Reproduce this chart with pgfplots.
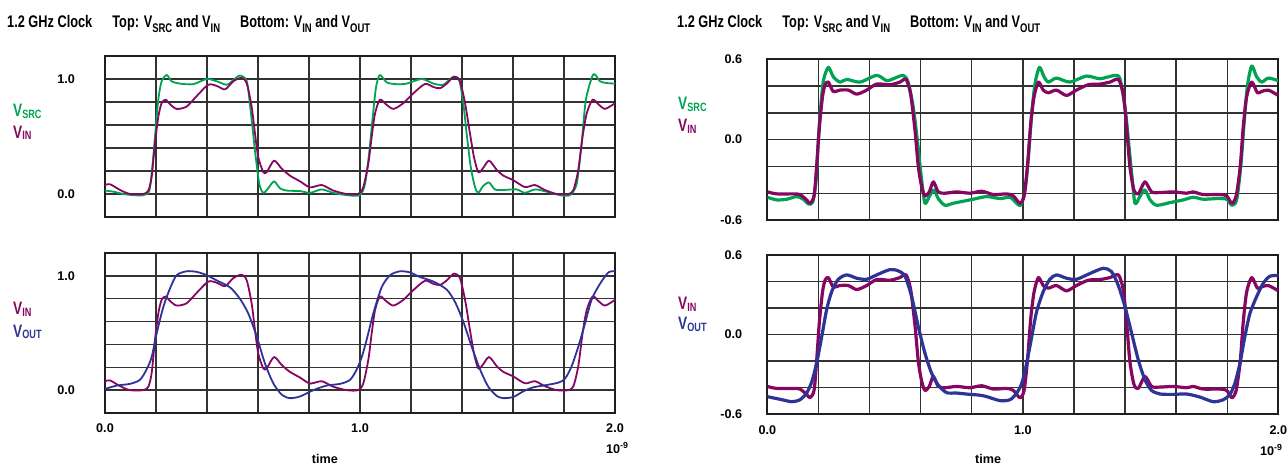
\documentclass[border=0pt]{standalone}
\usepackage{pgfplots}
\pgfplotsset{compat=1.18}
\usepackage{fontspec}
\setmainfont{Liberation Sans}[FakeStretch=0.76]
\newfontfamily\tickfont{Liberation Sans}[FakeStretch=1.0]
\definecolor{cgreen}{RGB}{0,163,82}
\definecolor{cpurple}{RGB}{134,6,98}
\definecolor{cblue}{RGB}{45,52,150}
\definecolor{cgrid}{RGB}{50,50,50}
\definecolor{cframe}{RGB}{30,30,30}
\newcommand\tsub[1]{\raisebox{-4.5pt}{\fontsize{12.5}{12.5}\selectfont #1}}
\newcommand\lsub[1]{\raisebox{-1.5pt}{\fontsize{12}{12}\selectfont #1}}
\pgfplotsset{
  base/.style={scale only axis, anchor=south west, xmin=0, xmax=2,
    grid=major, major grid style={line width=1.4pt, color=cgrid},
    axis line style={line width=2pt, color=cframe},
    major tick length=0pt, tick style={draw=none},
    xtick={0,0.2,0.4,0.6,0.8,1.0,1.2,1.4,1.6,1.8,2.0},
    /pgf/number format/assume math mode=true,
    ticklabel style={font=\tickfont\bfseries\fontsize{12.6}{13}\selectfont, inner sep=0pt},
    xticklabel style={anchor=north, yshift=-11pt},
    xticklabels={,,,,,,,,,,},
  },
  lefty/.style={ymin=-0.2, ymax=1.2, ytick={-0.2,0,0.2,0.4,0.6,0.8,1.0,1.2},
    yticklabels={,0.0,,,,,1.0,}, yticklabel style={anchor=east, xshift=-30pt}},
  righty/.style={ymin=-0.6, ymax=0.6, ytick={-0.6,-0.4,-0.2,0,0.2,0.4,0.6},
    yticklabels={-0.6,,,0.0,,,0.6}, yticklabel style={anchor=east, xshift=-25pt}},
  botx/.style={xticklabels={0.0,,,,,1.0,,,,,2.0}},
  thin/.style={line width=1.8pt, line join=round, smooth, tension=0.45},
  thick/.style={line width=3.2pt, line join=round, smooth, tension=0.45},
}
\pgfplotstableread{
x y
0 0.03
0.033 0.02
0.072 0.0
0.111 -0.01
0.15 -0.01
0.174 0.03
0.187 0.27
0.196 0.5
0.209 0.82
0.222 0.98
0.242 1.035
0.261 0.98
0.294 0.96
0.346 0.955
0.399 1.0
0.438 0.98
0.477 0.95
0.503 0.99
0.529 1.03
0.556 0.98
0.571 0.73
0.588 0.38
0.605 0.09
0.621 0.01
0.64 0.05
0.663 0.11
0.686 0.05
0.712 0.03
0.765 0.025
0.804 0.01
0.85 0.04
0.895 0.01
0.948 -0.01
0.999 -0.01
1.02 0.09
1.037 0.38
1.05 0.67
1.063 0.93
1.078 1.035
1.105 0.97
1.144 0.955
1.183 0.96
1.242 1.0
1.288 0.96
1.327 0.95
1.366 1.02
1.389 0.99
1.405 0.79
1.418 0.53
1.434 0.24
1.451 0.06
1.464 0.01
1.483 0.07
1.506 0.10
1.529 0.04
1.562 0.035
1.614 0.04
1.647 0.01
1.686 0.04
1.732 0.02
1.784 -0.01
1.823 -0.01
1.85 0.09
1.869 0.44
1.886 0.82
1.915 1.04
1.941 0.98
1.967 0.965
2.0 0.96
}\LSRC
\pgfplotstableread{
x y
0 0.078
0.02 0.085
0.059 0.035
0.098 0.0
0.15 0.0
0.17 0.03
0.183 0.15
0.196 0.44
0.209 0.67
0.222 0.79
0.238 0.82
0.255 0.78
0.281 0.74
0.32 0.76
0.359 0.85
0.405 0.95
0.438 0.94
0.471 0.91
0.503 0.98
0.536 1.01
0.556 0.96
0.575 0.76
0.588 0.53
0.601 0.32
0.621 0.19
0.634 0.19
0.663 0.29
0.693 0.22
0.725 0.16
0.765 0.11
0.804 0.058
0.85 0.078
0.895 0.03
0.948 0.0
0.993 0.0
1.013 0.06
1.033 0.27
1.046 0.5
1.059 0.70
1.078 0.82
1.102 0.78
1.131 0.74
1.17 0.79
1.209 0.875
1.255 0.957
1.288 0.93
1.314 0.92
1.34 0.96
1.369 1.02
1.392 0.98
1.412 0.79
1.431 0.53
1.447 0.32
1.464 0.19
1.481 0.22
1.506 0.29
1.536 0.21
1.562 0.16
1.601 0.12
1.647 0.06
1.686 0.078
1.725 0.035
1.771 0.0
1.817 0.0
1.837 0.035
1.856 0.21
1.873 0.5
1.889 0.70
1.912 0.82
1.935 0.78
1.961 0.74
2.0 0.79
}\LIN
\pgfplotstableread{
x y
0 0.01
0.046 0.04
0.098 0.055
0.137 0.09
0.163 0.18
0.183 0.29
0.203 0.5
0.229 0.73
0.255 0.89
0.281 1.006
0.32 1.04
0.359 1.035
0.399 1.006
0.438 0.96
0.49 0.9
0.529 0.8
0.562 0.67
0.595 0.47
0.627 0.235
0.66 0.06
0.693 -0.04
0.725 -0.07
0.765 -0.055
0.817 0.0
0.869 0.04
0.922 0.055
0.961 0.09
0.987 0.18
1.007 0.29
1.026 0.44
1.052 0.67
1.085 0.9
1.118 1.006
1.157 1.04
1.196 1.03
1.235 0.99
1.288 0.95
1.34 0.88
1.373 0.77
1.405 0.6
1.438 0.38
1.471 0.18
1.503 0.03
1.536 -0.05
1.562 -0.07
1.601 -0.06
1.641 -0.01
1.68 0.025
1.732 0.045
1.778 0.066
1.804 0.1
1.83 0.21
1.856 0.38
1.882 0.58
1.908 0.79
1.941 0.93
1.974 1.03
2.0 1.04
}\LOUT
\pgfplotstableread{
x y
0.0 -0.43
0.037 -0.45
0.076 -0.445
0.115 -0.425
0.141 -0.445
0.161 -0.48
0.178 -0.465
0.191 -0.30
0.2 0.0
0.209 0.246
0.22 0.445
0.239 0.54
0.258 0.47
0.284 0.43
0.311 0.45
0.363 0.43
0.428 0.48
0.467 0.44
0.493 0.455
0.532 0.48
0.551 0.43
0.571 0.245
0.587 0.0
0.604 -0.30
0.617 -0.475
0.634 -0.425
0.652 -0.375
0.669 -0.44
0.695 -0.49
0.728 -0.475
0.78 -0.455
0.806 -0.445
0.859 -0.425
0.911 -0.44
0.95 -0.43
0.976 -0.475
0.992 -0.49
1.009 -0.375
1.022 -0.13
1.035 0.196
1.048 0.42
1.065 0.54
1.083 0.47
1.1 0.43
1.132 0.46
1.184 0.43
1.249 0.475
1.302 0.455
1.361 0.48
1.38 0.455
1.4 0.245
1.413 0.0
1.426 -0.25
1.439 -0.475
1.458 -0.425
1.478 -0.375
1.498 -0.45
1.524 -0.49
1.576 -0.47
1.628 -0.45
1.667 -0.43
1.706 -0.445
1.759 -0.44
1.798 -0.445
1.818 -0.49
1.837 -0.45
1.853 -0.2
1.866 0.12
1.879 0.40
1.896 0.55
1.915 0.47
1.935 0.43
1.961 0.46
2.0 0.44
}\RSRC
\pgfplotstableread{
x y
0.0 -0.39
0.037 -0.405
0.102 -0.405
0.128 -0.41
0.154 -0.45
0.167 -0.475
0.183 -0.42
0.193 -0.2
0.204 0.1
0.216 0.32
0.226 0.41
0.239 0.43
0.258 0.36
0.284 0.37
0.317 0.37
0.35 0.34
0.389 0.37
0.428 0.415
0.48 0.41
0.519 0.43
0.543 0.45
0.561 0.34
0.578 0.07
0.591 -0.2
0.604 -0.35
0.617 -0.42
0.634 -0.39
0.65 -0.315
0.669 -0.39
0.695 -0.4
0.741 -0.39
0.793 -0.4
0.839 -0.385
0.885 -0.41
0.937 -0.405
0.963 -0.42
0.989 -0.475
1.005 -0.42
1.018 -0.2
1.031 0.12
1.044 0.32
1.061 0.43
1.08 0.37
1.1 0.35
1.132 0.37
1.171 0.33
1.21 0.37
1.256 0.41
1.302 0.415
1.341 0.43
1.374 0.45
1.393 0.34
1.406 0.1
1.419 -0.2
1.435 -0.375
1.452 -0.405
1.478 -0.315
1.504 -0.39
1.537 -0.395
1.589 -0.39
1.641 -0.4
1.667 -0.39
1.706 -0.41
1.771 -0.41
1.798 -0.42
1.818 -0.475
1.835 -0.42
1.851 -0.2
1.863 0.1
1.876 0.32
1.896 0.43
1.918 0.35
1.935 0.36
1.961 0.37
2.0 0.33
}\RIN
\pgfplotstableread{
x y
0.0 -0.467
0.05 -0.487
0.096 -0.505
0.128 -0.49
0.154 -0.44
0.174 -0.355
0.193 -0.215
0.213 -0.015
0.232 0.186
0.252 0.324
0.278 0.417
0.311 0.45
0.35 0.425
0.389 0.417
0.428 0.45
0.48 0.49
0.513 0.48
0.539 0.44
0.565 0.286
0.591 0.06
0.617 -0.14
0.643 -0.29
0.669 -0.38
0.702 -0.437
0.741 -0.44
0.793 -0.45
0.832 -0.456
0.859 -0.467
0.911 -0.497
0.95 -0.49
0.976 -0.44
0.996 -0.366
1.015 -0.215
1.035 -0.015
1.054 0.173
1.08 0.324
1.106 0.417
1.132 0.45
1.171 0.425
1.21 0.417
1.262 0.46
1.315 0.5
1.347 0.475
1.373 0.374
1.4 0.21
1.426 0.01
1.452 -0.19
1.478 -0.34
1.504 -0.42
1.537 -0.447
1.589 -0.45
1.641 -0.447
1.693 -0.47
1.745 -0.505
1.785 -0.49
1.811 -0.45
1.83 -0.366
1.85 -0.215
1.869 -0.015
1.889 0.16
1.915 0.286
1.941 0.387
1.967 0.44
2.0 0.445
}\ROUT
\begin{document}
\begin{tikzpicture}
\useasboundingbox (0,0) rectangle (1287pt,466pt);
% titles
\node[anchor=base west, inner sep=0pt, font=\bfseries\fontsize{16.8}{18}\selectfont] at (7pt,438pt)
  {1.2 GHz Clock\hspace{20pt}Top: V\tsub{SRC} and V\tsub{IN}\hspace{20pt}Bottom: V\tsub{IN} and V\tsub{OUT}};
\node[anchor=base west, inner sep=0pt, font=\bfseries\fontsize{16.8}{18}\selectfont] at (677pt,438pt)
  {1.2 GHz Clock\hspace{20pt}Top: V\tsub{SRC} and V\tsub{IN}\hspace{20pt}Bottom: V\tsub{IN} and V\tsub{OUT}};
% legends
\begin{scope}[every node/.style={anchor=base west, inner sep=0pt, font=\bfseries\fontsize{18}{18}\selectfont}]
\node[text=cgreen] at (13pt,349.3pt) {V\lsub{SRC}};
\node[text=cpurple] at (13pt,327.7pt) {V\lsub{IN}};
\node[text=cpurple] at (13pt,151pt) {V\lsub{IN}};
\node[text=cblue] at (13pt,128.7pt) {V\lsub{OUT}};
\node[text=cgreen] at (678pt,356pt) {V\lsub{SRC}};
\node[text=cpurple] at (678pt,334.3pt) {V\lsub{IN}};
\node[text=cpurple] at (678pt,156pt) {V\lsub{IN}};
\node[text=cblue] at (678pt,136pt) {V\lsub{OUT}};
\end{scope}
\begin{scope}[every node/.style={anchor=base west, inner sep=0pt, font=\tickfont\bfseries\fontsize{12.6}{13}\selectfont}]
\node at (606pt,12.7pt) {10\textsuperscript{-9}};
\node at (1260pt,11pt) {10\textsuperscript{-9}};
\node at (311.7pt,2.7pt) {time};
\node at (975pt,3pt) {time};
\end{scope}
% left top
\begin{axis}[base, lefty, at={(105pt,249pt)}, width=510pt, height=161pt]
\addplot[thin, color=cgreen] table {\LSRC};
\addplot[thin, color=cpurple] table {\LIN};
\end{axis}
% left bottom
\begin{axis}[base, lefty, botx, at={(105pt,53pt)}, width=510pt, height=160pt]
\addplot[thin, color=cpurple] table {\LIN};
\addplot[thin, color=cblue] table {\LOUT};
\end{axis}
% right top
\begin{axis}[base, righty, at={(767.3pt,246pt)}, width=511pt, height=160.7pt]
\addplot[thick, color=cgreen] table {\RSRC};
\addplot[thick, color=cpurple] table {\RIN};
\end{axis}
% right bottom
\begin{axis}[base, righty, botx, at={(767.3pt,51.7pt)}, width=511pt, height=159.3pt]
\addplot[thick, color=cpurple] table {\RIN};
\addplot[thick, color=cblue] table {\ROUT};
\end{axis}
\end{tikzpicture}
\end{document}
